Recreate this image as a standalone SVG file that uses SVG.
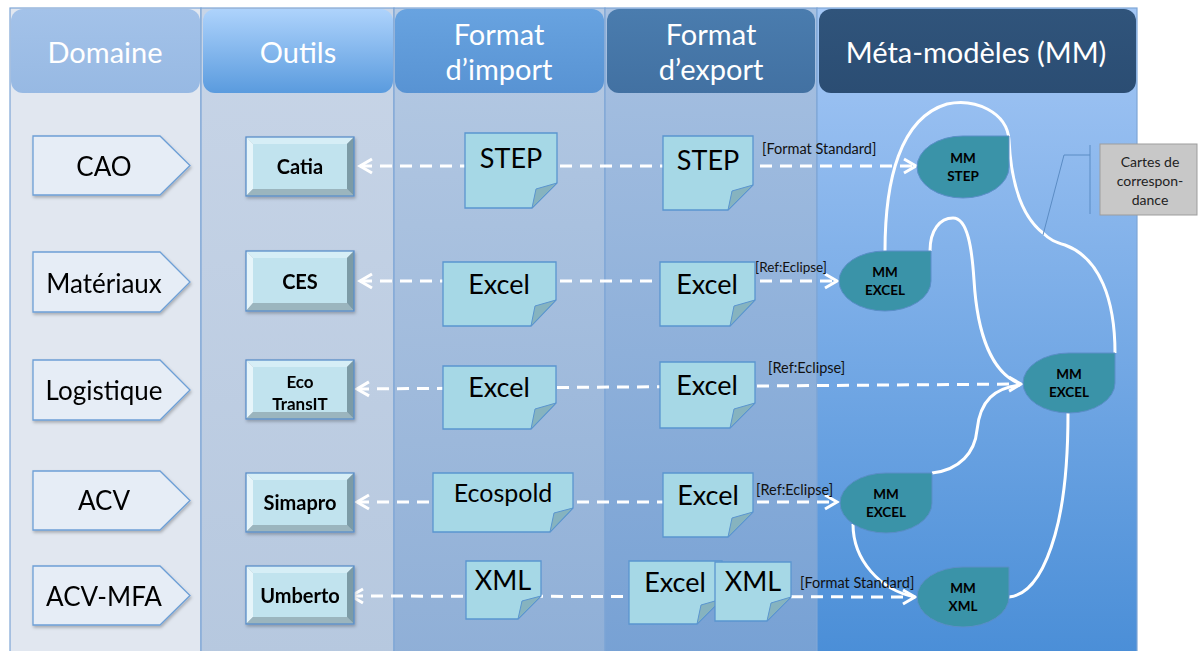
<svg xmlns="http://www.w3.org/2000/svg" width="1199" height="651" viewBox="0 0 1199 651">
<defs>
<style>
.hdr{font-family:Lato,"Liberation Sans",sans-serif;font-size:29px;fill:#fff;text-anchor:middle}
.dom{font-family:Lato,"Liberation Sans",sans-serif;font-size:26px;fill:#000;text-anchor:middle}
.tool{font-family:Lato,"Liberation Sans",sans-serif;font-weight:bold;font-size:20px;fill:#000;text-anchor:middle}
.doc{font-family:Lato,"Liberation Sans",sans-serif;font-size:27px;fill:#000;text-anchor:middle}
.lbl{font-family:Lato,"Liberation Sans",sans-serif;font-size:14.5px;fill:#111}
.mm{font-family:Lato,"Liberation Sans",sans-serif;font-weight:bold;font-size:13.5px;fill:#000;text-anchor:middle}
.pent{fill:#e6edf6;stroke:#6d9fd6;stroke-width:1.3}
.docs{fill:#a6d8e6;stroke:#5a95cf;stroke-width:1.3}
.fold{fill:#86b3bf;stroke:#5a95cf;stroke-width:1}
.mmn{fill:#3a93a8;stroke:#5a8ec8;stroke-width:1}
.dash{fill:none;stroke:#fff;stroke-width:3;stroke-dasharray:12 8;marker-start:url(#chev);marker-end:url(#chev)}
.curve{fill:none;stroke:#fff;stroke-width:3}
.colb{stroke:#7ea6d6;stroke-width:1.2}
.bt{fill:#d6eef6}.bl{fill:#e6f5fa}.br{fill:#7c9ba6}.bb{fill:#9bb5be}.bi{fill:#c1e3ee}
.bo{fill:none;stroke:#5b8fc9;stroke-width:1.3}
</style>
<marker id="chev" markerUnits="userSpaceOnUse" markerWidth="20" markerHeight="20" viewBox="-14 -10 16 20" refX="0" refY="0" orient="auto-start-reverse">
<path d="M-12,-7 L0,0 L-12,7" fill="none" stroke="#fff" stroke-width="3"/>
</marker>
<linearGradient id="gOut" x1="0" y1="0" x2="0" y2="1"><stop offset="0" stop-color="#c8d5e7"/><stop offset="1" stop-color="#b6c8df"/></linearGradient>
<linearGradient id="gImp" x1="0" y1="0" x2="0" y2="1"><stop offset="0" stop-color="#b6cae3"/><stop offset="1" stop-color="#8fafd7"/></linearGradient>
<linearGradient id="gExp" x1="0" y1="0" x2="0" y2="1"><stop offset="0" stop-color="#a8c1e1"/><stop offset="1" stop-color="#77a1d4"/></linearGradient>
<linearGradient id="gMM" x1="0" y1="0" x2="0" y2="1"><stop offset="0" stop-color="#a4c7f5"/><stop offset="1" stop-color="#4a8ed7"/></linearGradient>
<linearGradient id="hOut" x1="0" y1="0" x2="0" y2="1"><stop offset="0" stop-color="#aed3fc"/><stop offset="1" stop-color="#5a9bde"/></linearGradient>
<linearGradient id="hDom" x1="0" y1="0" x2="0" y2="1"><stop offset="0" stop-color="#a3c2e9"/><stop offset="1" stop-color="#97b9e3"/></linearGradient>
<linearGradient id="hImp" x1="0" y1="0" x2="0" y2="1"><stop offset="0" stop-color="#68a3e0"/><stop offset="1" stop-color="#5893d3"/></linearGradient>
<linearGradient id="hExp" x1="0" y1="0" x2="0" y2="1"><stop offset="0" stop-color="#4a7cae"/><stop offset="1" stop-color="#4271a2"/></linearGradient>
<linearGradient id="hMM" x1="0" y1="0" x2="0" y2="1"><stop offset="0" stop-color="#30547b"/><stop offset="1" stop-color="#2b4d73"/></linearGradient>
<filter id="sh" x="-10%" y="-10%" width="130%" height="140%"><feDropShadow dx="1" dy="2" stdDeviation="1.5" flood-color="#000" flood-opacity="0.25"/></filter>
</defs>

<g id="columns">
<rect x="10" y="8" width="191" height="650" fill="#e1e7f0" class="colb"/>
<rect x="201" y="8" width="193" height="650" fill="url(#gOut)" class="colb"/>
<rect x="394" y="8" width="211" height="650" fill="url(#gImp)" class="colb"/>
<rect x="605" y="8" width="212" height="650" fill="url(#gExp)" class="colb"/>
<rect x="817" y="8" width="320" height="650" fill="url(#gMM)" class="colb"/>
</g>

<g id="headers">
<g id="h-domaine"><rect x="11" y="9" width="189" height="84" rx="12" fill="url(#hDom)"/><text class="hdr" x="105" y="63">Domaine</text></g>
<g id="h-outils"><rect x="203" y="9" width="190" height="84" rx="12" fill="url(#hOut)"/><text class="hdr" x="298" y="63">Outils</text></g>
<g id="h-import"><rect x="395" y="9" width="209" height="84" rx="12" fill="url(#hImp)"/><text class="hdr" x="499" y="45">Format</text><text class="hdr" x="499" y="80">d’import</text></g>
<g id="h-export"><rect x="607" y="9" width="208" height="84" rx="12" fill="url(#hExp)"/><text class="hdr" x="711" y="45">Format</text><text class="hdr" x="711" y="80">d’export</text></g>
<g id="h-mm"><rect x="819" y="9" width="317" height="84" rx="12" fill="url(#hMM)"/><text class="hdr" x="976" y="63">Méta-modèles (MM)</text></g>
</g>

<g id="connectors">
<path class="dash" d="M360,166 L916,166"/>
<path class="dash" d="M360,281 L837,281"/>
<path class="dash" d="M357,389 L1021,384"/>
<path class="dash" d="M357,502 L837,502"/>
<path class="dash" d="M351,596 L915,597"/>
<path class="curve" d="M885,251 C885,180 900,118 947,104 C975,98 1007,112 1009,140 C1011,180 1020,215 1043,233 C1050,240 1055,242 1065,245 C1100,258 1115,300 1115,353"/>
<path class="curve" d="M930,251 C930,230 940,218 953,218 C968,218 972,250 974,280 C977,330 990,372 1020,384"/>
<path class="curve" d="M932,473 C960,470 975,452 977,430 C980,400 995,388 1020,385"/>
<path class="curve" d="M853,524 C853,560 880,590 915,597"/>
<path class="curve" d="M1009,597 C1030,595 1045,570 1055,535 C1065,500 1068,460 1068,413"/>
<text class="lbl" x="762" y="154">[Format Standard]</text>
<text class="lbl" x="755" y="272" style="font-size:13.5px">[Ref:Eclipse]</text>
<text class="lbl" x="768" y="373">[Ref:Eclipse]</text>
<text class="lbl" x="756" y="495">[Ref:Eclipse]</text>
<text class="lbl" x="800" y="588">[Format Standard]</text>
<polyline points="1090,145 1090,214" fill="none" stroke="#5b8cc4" stroke-width="1"/>
<polyline points="1090,155 1064,155 1043,235" fill="none" stroke="#5b8cc4" stroke-width="1"/>
</g>

<g id="domains" filter="url(#sh)">
<g id="d-cao"><path class="pent" d="M33,136 H160 L190,165.5 L160,195 H33 Z"/><text class="dom" x="104" y="176">CAO</text></g>
<g id="d-materiaux"><path class="pent" d="M33,252 H160 L190,282 L160,312 H33 Z"/><text class="dom" x="104" y="293">Matériaux</text></g>
<g id="d-logistique"><path class="pent" d="M33,360 H160 L190,390 L160,420 H33 Z"/><text class="dom" x="104" y="400">Logistique</text></g>
<g id="d-acv"><path class="pent" d="M33,471 H160 L190,500.5 L160,530 H33 Z"/><text class="dom" x="104" y="510">ACV</text></g>
<g id="d-acvmfa"><path class="pent" d="M33,566 H160 L190,595.5 L160,625 H33 Z"/><text class="dom" x="104" y="606">ACV-MFA</text></g>
</g>

<g id="tools" filter="url(#sh)">
<g id="t-catia">
<path class="bt" d="M246,137 H354 L347,144 H253 Z"/><path class="bl" d="M246,137 L253,144 V189 L246,196 Z"/><path class="br" d="M354,137 V196 L347,189 V144 Z"/><path class="bb" d="M246,196 L253,189 H347 L354,196 Z"/><rect class="bi" x="253" y="144" width="94" height="45"/><rect class="bo" x="246" y="137" width="108" height="59"/>
<text class="tool" x="300" y="174">Catia</text></g>
<g id="t-ces">
<path class="bt" d="M246,251 H354 L347,258 H253 Z"/><path class="bl" d="M246,251 L253,258 V303 L246,311 Z"/><path class="br" d="M354,251 V311 L347,303 V258 Z"/><path class="bb" d="M246,311 L253,303 H347 L354,311 Z"/><rect class="bi" x="253" y="258" width="94" height="45"/><rect class="bo" x="246" y="251" width="108" height="60"/>
<text class="tool" x="300" y="289">CES</text></g>
<g id="t-ecotransit">
<path class="bt" d="M246,360 H354 L347,367 H253 Z"/><path class="bl" d="M246,360 L253,367 V412 L246,419 Z"/><path class="br" d="M354,360 V419 L347,412 V367 Z"/><path class="bb" d="M246,419 L253,412 H347 L354,419 Z"/><rect class="bi" x="253" y="367" width="94" height="45"/><rect class="bo" x="246" y="360" width="108" height="59"/>
<text class="tool" x="300" y="388" style="font-size:17px">Eco</text><text class="tool" x="300" y="410" style="font-size:17px">TransIT</text></g>
<g id="t-simapro">
<path class="bt" d="M246,473 H354 L347,480 H253 Z"/><path class="bl" d="M246,473 L253,480 V525 L246,532 Z"/><path class="br" d="M354,473 V532 L347,525 V480 Z"/><path class="bb" d="M246,532 L253,525 H347 L354,532 Z"/><rect class="bi" x="253" y="480" width="94" height="45"/><rect class="bo" x="246" y="473" width="108" height="59"/>
<text class="tool" x="300" y="510">Simapro</text></g>
<g id="t-umberto">
<path class="bt" d="M246,566 H354 L347,573 H253 Z"/><path class="bl" d="M246,566 L253,573 V617 L246,624 Z"/><path class="br" d="M354,566 V624 L347,617 V573 Z"/><path class="bb" d="M246,624 L253,617 H347 L354,624 Z"/><rect class="bi" x="253" y="573" width="94" height="44"/><rect class="bo" x="246" y="566" width="108" height="58"/>
<text class="tool" x="300" y="603">Umberto</text></g>
</g>

<g id="import-docs">
<g id="i-step"><path class="docs" d="M465,133 H557 V183 L532,208 H465 Z"/><path class="fold" d="M557,183 L532,208 L536,189 Z"/><text class="doc" x="511" y="168">STEP</text></g>
<g id="i-excel1"><path class="docs" d="M443,262 H556 V300 L531,326 H443 Z"/><path class="fold" d="M556,300 L531,326 L535,306 Z"/><text class="doc" x="499" y="294">Excel</text></g>
<g id="i-excel2"><path class="docs" d="M443,366 H556 V403 L531,429 H443 Z"/><path class="fold" d="M556,403 L531,429 L535,409 Z"/><text class="doc" x="499" y="397">Excel</text></g>
<g id="i-ecospold"><path class="docs" d="M433,473 H573 V508 L550,532 H433 Z"/><path class="fold" d="M573,508 L550,532 L554,513 Z"/><text class="doc" x="503" y="502" style="font-size:25px">Ecospold</text></g>
<g id="i-xml"><path class="docs" d="M466,561 H541 V596 L518,619 H466 Z"/><path class="fold" d="M541,596 L518,619 L522,601 Z"/><text class="doc" x="503" y="590">XML</text></g>
</g>

<g id="export-docs">
<g id="e-step"><path class="docs" d="M663,136 H753 V185 L728,210 H663 Z"/><path class="fold" d="M753,185 L728,210 L732,191 Z"/><text class="doc" x="708" y="170">STEP</text></g>
<g id="e-excel1"><path class="docs" d="M660,262 H755 V300 L730,326 H660 Z"/><path class="fold" d="M755,300 L730,326 L734,306 Z"/><text class="doc" x="707" y="294">Excel</text></g>
<g id="e-excel2"><path class="docs" d="M660,362 H755 V403 L730,428 H660 Z"/><path class="fold" d="M755,403 L730,428 L734,409 Z"/><text class="doc" x="707" y="395">Excel</text></g>
<g id="e-excel3"><path class="docs" d="M663,473 H753 V512 L728,537 H663 Z"/><path class="fold" d="M753,512 L728,537 L732,518 Z"/><text class="doc" x="708" y="505">Excel</text></g>
<g id="e-excel4"><path class="docs" d="M629,561 H722 V599 L697,624 H629 Z"/><path class="fold" d="M722,599 L697,624 L701,605 Z"/><text class="doc" x="675" y="592">Excel</text></g>
<g id="e-xml"><path class="docs" d="M715,562 H791 V597 L767,621 H715 Z"/><path class="fold" d="M791,597 L767,621 L771,603 Z"/><text class="doc" x="753" y="591">XML</text></g>
</g>

<g id="metamodels">
<g id="mm-step"><path class="mmn" d="M963,136 H1009 V167 A46,31 0 0 1 963,198 A46,31 0 0 1 917,167 A46,31 0 0 1 963,136 Z"/><text class="mm" x="963" y="163">MM</text><text class="mm" x="963" y="181">STEP</text></g>
<g id="mm-excel1"><path class="mmn" d="M885,251 H931 V281 A46,30 0 0 1 885,311 A46,30 0 0 1 839,281 A46,30 0 0 1 885,251 Z"/><text class="mm" x="885" y="277">MM</text><text class="mm" x="885" y="295">EXCEL</text></g>
<g id="mm-excel2"><path class="mmn" d="M1069,353 H1115 V383 A46,30 0 0 1 1069,413 A46,30 0 0 1 1023,383 A46,30 0 0 1 1069,353 Z"/><text class="mm" x="1069" y="379">MM</text><text class="mm" x="1069" y="397">EXCEL</text></g>
<g id="mm-excel3"><path class="mmn" d="M886,473 H932 V503 A46,30 0 0 1 886,533 A46,30 0 0 1 840,503 A46,30 0 0 1 886,473 Z"/><text class="mm" x="886" y="499">MM</text><text class="mm" x="886" y="517">EXCEL</text></g>
<g id="mm-xml"><path class="mmn" d="M963,567 H1009 V597 A46,30 0 0 1 963,627 A46,30 0 0 1 917,597 A46,30 0 0 1 963,567 Z"/><text class="mm" x="963" y="593">MM</text><text class="mm" x="963" y="611">XML</text></g>
</g>

<g id="callout">
<rect x="1100" y="144" width="97" height="71" fill="#c8c8c8" stroke="#9d9d9d" stroke-width="1"/>
<text class="lbl" x="1150" y="167" text-anchor="middle" style="fill:#222;font-size:14px">Cartes de</text>
<text class="lbl" x="1150" y="186" text-anchor="middle" style="fill:#222;font-size:14px">correspon-</text>
<text class="lbl" x="1150" y="205" text-anchor="middle" style="fill:#222;font-size:14px">dance</text>
</g>
</svg>
